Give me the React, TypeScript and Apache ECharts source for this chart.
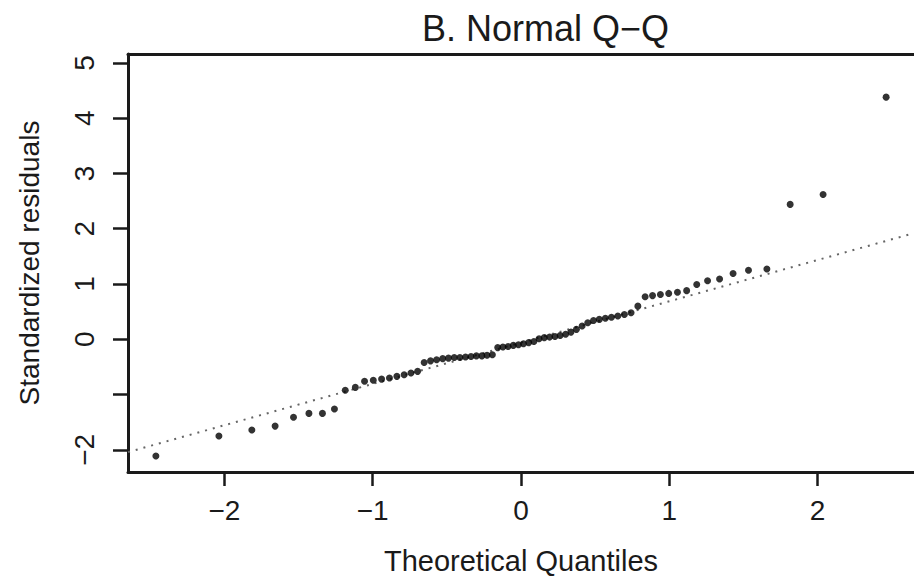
import React, { useEffect, useRef } from "react";
import * as echarts from "echarts";

const titleText = "B. Normal Q\u2212Q";
const xName = "Theoretical Quantiles";
const yName = "Standardized residuals";

const xTicks = [-2, -1, 0, 1, 2];
const yTicks = [-2, -1, 0, 1, 2, 3, 4, 5];
const yLabelTicks = [-2, 0, 1, 2, 3, 4, 5];

const theoreticalQuantiles = [
  -2.462, -2.037, -1.815, -1.658, -1.534, -1.43, -1.339, -1.258, -1.185, -1.117,
  -1.055, -0.996, -0.94, -0.887, -0.837, -0.788, -0.742, -0.697, -0.653, -0.61,
  -0.569, -0.528, -0.489, -0.45, -0.412, -0.374, -0.337, -0.301, -0.264, -0.229,
  -0.193, -0.157, -0.122, -0.087, -0.052, -0.017,
  0.017, 0.052, 0.087, 0.122, 0.157, 0.193, 0.229, 0.264, 0.301, 0.337,
  0.374, 0.412, 0.45, 0.489, 0.528, 0.569, 0.61, 0.653, 0.697, 0.742,
  0.788, 0.837, 0.887, 0.94, 0.996, 1.055, 1.117, 1.185, 1.258, 1.339,
  1.43, 1.534, 1.658, 1.815, 2.037, 2.462,
];

const standardizedResiduals = [
  -2.11, -1.75, -1.64, -1.57, -1.41, -1.34, -1.34, -1.26, -0.92, -0.87,
  -0.76, -0.74, -0.72, -0.7, -0.67, -0.64, -0.61, -0.58, -0.42, -0.39,
  -0.37, -0.35, -0.34, -0.33, -0.33, -0.32, -0.31, -0.3, -0.3, -0.29,
  -0.28, -0.15, -0.14, -0.13, -0.11, -0.1,
  -0.08, -0.06, -0.04, 0.01, 0.03, 0.04, 0.05, 0.07, 0.09, 0.13,
  0.18, 0.24, 0.3, 0.34, 0.36, 0.38, 0.4, 0.42, 0.45, 0.48,
  0.6, 0.77, 0.79, 0.81, 0.83, 0.85, 0.88, 0.99, 1.06, 1.09,
  1.19, 1.25, 1.27, 2.44, 2.62, 4.38,
];

// reference line (qqline) end points
const qqLineX = [-2.65, 2.65];
const qqLineY = [-2.04, 1.92];

const X_MIN = -2.65;
const X_MAX = 2.65;
const Y_MIN = -2.4;
const Y_MAX = 5.16;

const FONT = "'Liberation Sans', Arial, Helvetica, sans-serif";
const INK = "#1a1a1a";

const fmt = (v: number) => (v < 0 ? "\u2212" + Math.abs(v) : String(v));

export default function App() {
  const ref = useRef<HTMLDivElement>(null);
  useEffect(() => {
    if (!ref.current) return;
    const chart = echarts.init(ref.current, undefined, { renderer: "svg" });
    const points = theoreticalQuantiles.map((x, i) => [x, standardizedResiduals[i]]);
    const line = qqLineX.map((x, i) => [x, qqLineY[i]]);
    chart.setOption({
      animation: false,
      backgroundColor: "#ffffff",
      title: {
        text: titleText,
        left: 422,
        top: 10,
        padding: 0,
        textStyle: { fontFamily: FONT, fontSize: 36, fontWeight: "normal", color: INK },
      },
      grid: { left: 128, top: 54, right: -4, bottom: 107, containLabel: false },
      xAxis: [
        {
          type: "value",
          min: X_MIN,
          max: X_MAX,
          position: "bottom",
          name: xName,
          nameLocation: "middle",
          nameGap: 74,
          nameTextStyle: { fontFamily: FONT, fontSize: 29, color: INK },
          axisLine: { show: true, onZero: false, lineStyle: { color: INK, width: 3 } },
          axisTick: {
            show: true,
            length: 14,
            customValues: xTicks,
            lineStyle: { color: INK, width: 2.5 },
          },
          axisLabel: {
            show: true,
            customValues: xTicks,
            margin: 24,
            fontFamily: FONT,
            fontSize: 28,
            color: INK,
            formatter: (v: number) => fmt(v),
          },
          splitLine: { show: false },
        },
        {
          type: "value",
          min: X_MIN,
          max: X_MAX,
          position: "top",
          axisLine: { show: true, onZero: false, lineStyle: { color: INK, width: 3 } },
          axisTick: { show: false },
          axisLabel: { show: false },
          splitLine: { show: false },
        },
      ],
      yAxis: {
        type: "value",
        min: Y_MIN,
        max: Y_MAX,
        position: "left",
        name: yName,
        nameLocation: "middle",
        nameRotate: 90,
        nameGap: 85,
        nameTextStyle: { fontFamily: FONT, fontSize: 28, color: INK },
        axisLine: { show: true, onZero: false, lineStyle: { color: INK, width: 3 } },
        axisTick: {
          show: true,
          length: 15,
          customValues: yTicks,
          lineStyle: { color: INK, width: 2.5 },
        },
        axisLabel: {
          show: true,
          customValues: yLabelTicks,
          rotate: 90,
          margin: 30,
          fontFamily: FONT,
          fontSize: 28,
          color: INK,
          formatter: (v: number) => fmt(v),
        },
        splitLine: { show: false },
      },
      series: [
        {
          type: "line",
          data: line,
          showSymbol: false,
          symbol: "none",
          silent: true,
          lineStyle: { color: "#666666", width: 2, type: [2, 6] },
          z: 1,
        },
        {
          type: "scatter",
          data: points,
          symbol: "circle",
          symbolSize: 7,
          itemStyle: { color: "#000000" },
          silent: true,
          z: 2,
        },
      ],
    });
    return () => chart.dispose();
  }, []);
  return (
    <div
      ref={ref}
      style={{ position: "absolute", left: 0, top: 0, width: 914, height: 580, background: "#fff" }}
    />
  );
}
